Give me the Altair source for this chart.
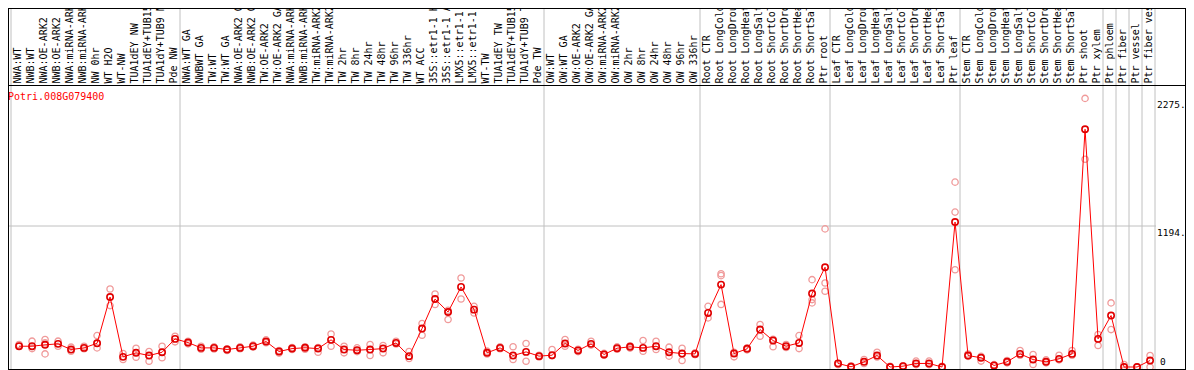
import json
import altair as alt
import pandas as pd

gene = "Potri.008G079400"

labels = [
    "NWA:WT", "NWB:WT", "NWA:OE-ARK2", "NWB:OE-ARK2", "NWA:miRNA-ARK2", "NWB:miRNA-ARK2",
    "NW 0hr", "WT H2O", "WT-NW", "TUA1dEY NW", "TUA1dEY+TUB15 NW", "TUA1dY+TUB9 NW", "Pde NW",
    "NWA:WT GA", "NWBWT GA", "TW:WT", "TW:WT GA", "NWA:OE-ARK2 GA", "NWB:OE-ARK2 GA",
    "TW:OE-ARK2", "TW:OE-ARK2 GA", "NWA:miRNA-ARK2 GA", "NWB:miRNA-ARK2 GA", "TW:miRNA-ARK2",
    "TW:miRNA-ARK2 GA", "TW 2hr", "TW 8hr", "TW 24hr", "TW 48hr", "TW 96hr", "TW 336hr",
    "WT ACC", "35S::etr1-1 H2O", "35S::etr1-1 ACC", "LMX5::etr1-1 H2O", "LMX5::etr1-1 ACC",
    "WT-TW", "TUA1dEY TW", "TUA1dEY+TUB15 TW", "TUA1dY+TUB9 TW", "Pde TW",
    "OW:WT", "OW:WT GA", "OW:OE-ARK2", "OW:OE-ARK2 GA", "OW:miRNA-ARK2", "OW:miRNA-ARK2 GA",
    "OW 2hr", "OW 8hr", "OW 24hr", "OW 48hr", "OW 96hr", "OW 336hr",
    "Root CTR", "Root LongCold", "Root LongDrought", "Root LongHeat", "Root LongSalt",
    "Root ShortCold", "Root ShortDrought", "Root ShortHeat", "Root ShortSalt", "Ptr root",
    "Leaf CTR", "Leaf LongCold", "Leaf LongDrought", "Leaf LongHeat", "Leaf LongSalt",
    "Leaf ShortCold", "Leaf ShortDrought", "Leaf ShortHeat", "Leaf ShortSalt", "Ptr leaf",
    "Stem CTR", "Stem LongCold", "Stem LongDrought", "Stem LongHeat", "Stem LongSalt",
    "Stem ShortCold", "Stem ShortDrought", "Stem ShortHeat", "Stem ShortSalt", "Ptr shoot",
    "Ptr xylem", "Ptr phloem", "Ptr fiber", "Ptr vessel", "Ptr fiber vessel",
]

means = [
    176, 176, 188, 196, 148, 162, 201, 593, 86, 120, 97, 125, 238,
    207, 162, 162, 148, 162, 176, 216, 131, 156, 163, 156, 230, 148, 142, 148, 156, 204, 92,
    326, 576, 466, 678, 486, 120, 162, 97, 128, 92,
    100, 199, 140, 196, 106, 159, 171, 162, 176, 125, 114, 111,
    458, 698, 114, 154, 317, 224, 176, 204, 622, 845,
    30, 2, 44, 97, 0, 7, 30, 30, 0, 1228,
    97, 78, 13, 44, 111, 63, 44, 69, 111, 2014, 238,
    436, 0, 0, 55,
]

replicates = [
    [176, 190], [219, 156], [233, 204, 111], [219, 176], [168, 134], [176, 155],
    [266, 162, 201], [661, 520], [114, 63], [159, 83], [131, 49], [176, 78], [261, 213],
    [218, 196], [176, 150], [170, 152], [155, 140], [170, 155], [185, 168], [230, 205],
    [140, 118], [165, 148], [171, 150], [125, 165], [280, 176], [176, 120], [162, 130],
    [190, 97], [182, 120], [218, 195], [131, 72], [368, 269], [618, 530], [402, 480],
    [754, 576], [514, 458], [134, 110], [170, 155], [171, 63], [199, 49], [100, 85],
    [148, 95], [233, 176], [150, 130], [218, 185], [115, 100], [170, 150], [180, 160],
    [224, 134], [218, 148], [168, 92], [159, 55], [120, 105],
    [514, 416], [790, 774, 530], [86, 125], [162, 145], [360, 261], [171, 235], [190, 165],
    [266, 156], [740, 571, 543], [1170, 712, 642],
    [30, 20], [10, 0], [63, 30], [125, 85], [0, 5], [10, 0], [50, 20], [50, 20], [5, 0],
    [1566, 1312, 824],
    [110, 90], [90, 50], [20, 8], [55, 35], [140, 100], [106, 21], [60, 35], [100, 60],
    [140, 100], [2275, 1760], [275, 182],
    [543, 317], [21, 0], [0, 0], [97, 0],
]

group_starts = [0, 13, 41, 53, 63, 73, 84, 85, 86, 87]
y_max = 2388.75
y_ticks = [2275, 1194.375]
y_tick_text = ["2275.", "1194."]

n = len(labels)
idx = list(range(n))
mean_df = pd.DataFrame({"idx": idx, "value": means})
rep_df = pd.DataFrame([{"idx": i, "value": v} for i, vs in enumerate(replicates) for v in vs])
start_df = pd.DataFrame({"idx": group_starts})
end_df = pd.DataFrame({"idx": [n - 1]})
grid_df = pd.DataFrame({"v": [y_max / 2]})
ylab_df = pd.DataFrame({"v": y_ticks, "t": y_tick_text})
zero_df = pd.DataFrame({"v": [0], "t": ["0"]})
title_df = pd.DataFrame({"t": [gene]})
one = pd.DataFrame({"k": [0]})

MONO = "DejaVu Sans Mono"
xscale = alt.Scale(type="band", domain=idx, paddingInner=0, paddingOuter=0)
yscale = alt.Scale(domain=[0, y_max], nice=False, zero=True)
xaxis = alt.Axis(
    orient="top", labelAngle=-90, labelExpr=json.dumps(labels) + "[datum.value]",
    ticks=False, tickSize=0, domain=False, grid=False, title=None, labelPadding=2,
    labelFont=MONO, labelFontSize=10, labelColor="black", labelLimit=300,
    labelOverlap=False,
)


def X(bp=0.5):
    return alt.X("idx:O", scale=xscale, axis=xaxis, bandPosition=bp)


Y = alt.Y("value:Q", scale=yscale, axis=None)
GRAY = "#c0c0c0"

seps = alt.Chart(start_df).mark_rule(color=GRAY, strokeWidth=1).encode(
    x=X(0), y=alt.value(-77), y2=alt.value(285))
sep_end = alt.Chart(end_df).mark_rule(color=GRAY, strokeWidth=1).encode(
    x=X(1), y=alt.value(-77), y2=alt.value(285))
hgrid = alt.Chart(grid_df).mark_rule(color=GRAY, strokeWidth=1).encode(
    y=alt.Y("v:Q", scale=yscale, axis=None), x=alt.value(-3), x2=alt.value(1145))

reps = alt.Chart(rep_df).mark_point(
    shape="circle", filled=False, color="#f09a9a", strokeWidth=1.3, size=40, opacity=1
).encode(x=X(0.62), y=Y)
line = alt.Chart(mean_df).mark_line(color="red", strokeWidth=1).encode(x=X(0.62), y=Y)
pts = alt.Chart(mean_df).mark_point(
    shape="circle", filled=False, color="#e00000", strokeWidth=1.6, size=40, opacity=1
).encode(x=X(0.62), y=Y)

ylab = alt.Chart(ylab_df).mark_text(
    align="left", baseline="top", dy=2, font=MONO, fontSize=9.5, color="black"
).encode(y=alt.Y("v:Q", scale=yscale, axis=None), x=alt.value(1146), text="t:N")
zlab = alt.Chart(zero_df).mark_text(
    align="left", baseline="bottom", dy=0, font=MONO, fontSize=9.5, color="black"
).encode(y=alt.Y("v:Q", scale=yscale, axis=None), x=alt.value(1149), text="t:N")
title = alt.Chart(title_df).mark_text(
    align="left", baseline="middle", font=MONO, fontSize=10, color="red"
).encode(x=alt.value(-3), y=alt.value(12), text="t:N")

frame_col = "black"
f_left = alt.Chart(one).mark_rule(color=frame_col).encode(
    x=alt.value(-2.5), y=alt.value(-77), y2=alt.value(285))
f_right = alt.Chart(one).mark_rule(color=frame_col).encode(
    x=alt.value(1174.5), y=alt.value(-77), y2=alt.value(285))
f_top = alt.Chart(one).mark_rule(color=frame_col).encode(
    y=alt.value(-76.5), x=alt.value(-3), x2=alt.value(1175))
f_head = alt.Chart(one).mark_rule(color=frame_col).encode(
    y=alt.value(0.5), x=alt.value(-3), x2=alt.value(1175))
f_bottom = alt.Chart(one).mark_rule(color=frame_col).encode(
    y=alt.value(284.5), x=alt.value(-3), x2=alt.value(1175))

chart = alt.layer(
    seps, sep_end, hgrid, reps, line, pts, ylab, zlab, title,
    f_left, f_right, f_top, f_head, f_bottom,
).properties(
    width=1144, height=282, autosize="none",
    padding={"left": 3, "top": 77, "right": 31, "bottom": 3},
).configure_view(stroke=None)

chart.save("out.html", embed_options={"renderer": "svg", "actions": False})
